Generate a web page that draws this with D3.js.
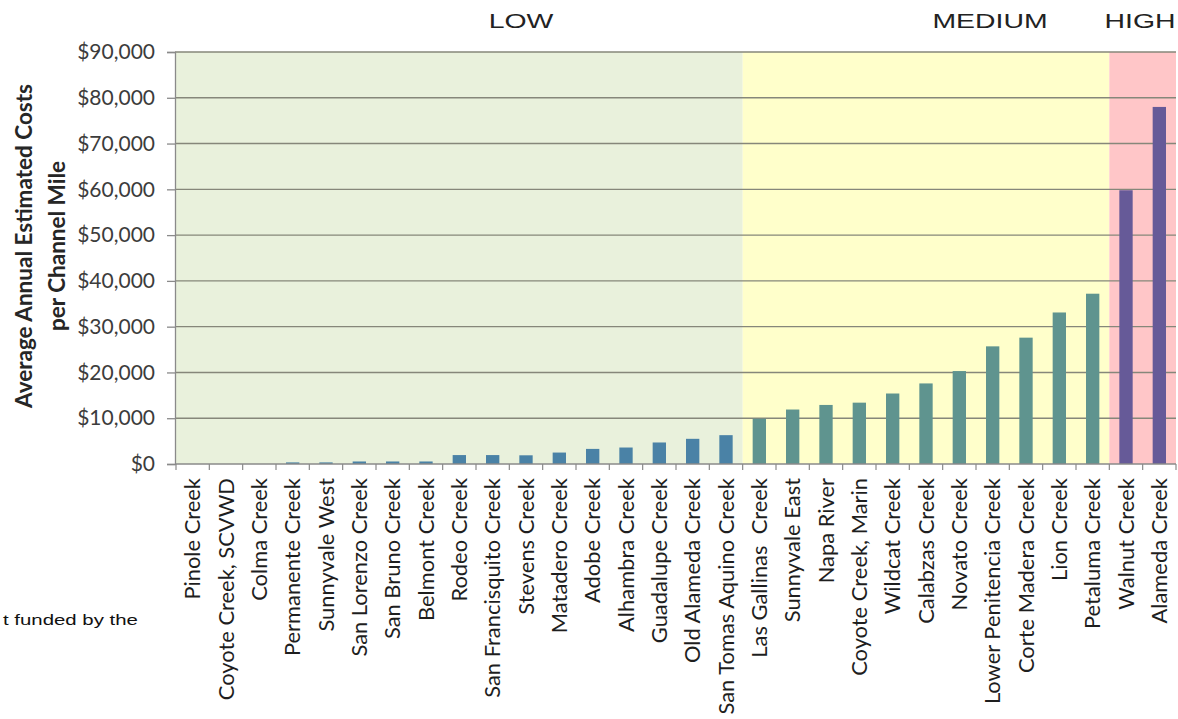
<!DOCTYPE html>
<html>
<head>
<meta charset="utf-8">
<script src="https://cdn.jsdelivr.net/npm/d3@7"></script>
<style>
  body { margin: 0; background: #fff; }
  svg { display: block; }
</style>
</head>
<body>
<svg id="chart" width="1178" height="719"></svg>
<script>
// Creeks, ordered by average annual estimated cost per channel mile
const categories = [
  "Pinole Creek", "Coyote Creek, SCVWD", "Colma Creek", "Permanente Creek",
  "Sunnyvale West", "San Lorenzo Creek", "San Bruno Creek", "Belmont Creek",
  "Rodeo Creek", "San Francisquito Creek", "Stevens Creek", "Matadero Creek",
  "Adobe Creek", "Alhambra Creek", "Guadalupe Creek", "Old Alameda Creek",
  "San Tomas Aquino Creek", "Las Gallinas  Creek", "Sunnyvale East", "Napa River",
  "Coyote Creek, Marin", "Wildcat Creek", "Calabzas Creek", "Novato Creek",
  "Lower Penitencia Creek", "Corte Madera Creek", "Lion Creek", "Petaluma Creek",
  "Walnut Creek", "Alameda Creek"
];

// Average annual estimated cost per channel mile (USD)
const costs = [
  0, 0, 0, 350,
  350, 550, 550, 550,
  1950, 1950, 1900, 2500,
  3300, 3600, 4700, 5500,
  6300, 9900, 11900, 12900,
  13400, 15400, 17600, 20300,
  25700, 27600, 33100, 37200,
  59800, 78000
];

// Cost tiers and how many consecutive creeks fall in each
const tierNames = ["LOW", "MEDIUM", "HIGH"];
const tierCounts = [17, 11, 2];

// Y axis ticks
const yTicks = [0, 10000, 20000, 30000, 40000, 50000, 60000, 70000, 80000, 90000];

// ---- styling ----
const tierBg = { LOW: "#e9f1dc", MEDIUM: "#ffffcb", HIGH: "#ffc6c8" };
const tierBar = { LOW: "#4a82a6", MEDIUM: "#5f948f", HIGH: "#665a98" };
const headerX = { LOW: 521, MEDIUM: 990, HIGH: 1140 };
const HEADER_SX = 1.42; // wide header lettering
const BODY_FONT = "Lato, 'Open Sans', sans-serif";

const svg = d3.select("#chart");

const plot = { left: 175, right: 1176, top: 52, bottom: 464 };

const x = d3.scaleBand()
  .domain(categories)
  .range([plot.left + 1, plot.right])
  .paddingInner(0.6)
  .paddingOuter(0.3);

const y = d3.scaleLinear()
  .domain([0, 90000])
  .range([plot.bottom, plot.top]);

// tier of each creek
const tierOf = [];
tierNames.forEach((t, i) => { for (let k = 0; k < tierCounts[i]; k++) tierOf.push(t); });

// background shading for each tier
const step = x.step();
const x0 = x.range()[0];
let startIdx = 0;
const zones = tierNames.map((t, i) => {
  const z = { tier: t, start: startIdx, end: startIdx + tierCounts[i] };
  startIdx += tierCounts[i];
  return z;
});

svg.append("g").selectAll("rect")
  .data(zones)
  .join("rect")
  .attr("x", d => x0 + d.start * step)
  .attr("width", d => (d.end - d.start) * step)
  .attr("y", y(90000))
  .attr("height", y(0) - y(90000))
  .attr("fill", d => tierBg[d.tier]);

// horizontal gridlines
svg.append("g").selectAll("line")
  .data(yTicks.filter(v => v > 0))
  .join("line")
  .attr("x1", plot.left).attr("x2", plot.right)
  .attr("y1", d => y(d)).attr("y2", d => y(d))
  .attr("stroke", "#86877a")
  .attr("stroke-width", 1.4);

// bars
svg.append("g").selectAll("rect")
  .data(categories.map((c, i) => ({ c, v: costs[i], t: tierOf[i] })))
  .join("rect")
  .attr("x", d => x(d.c))
  .attr("width", x.bandwidth())
  .attr("y", d => y(d.v))
  .attr("height", d => y(0) - y(d.v))
  .attr("fill", d => tierBar[d.t]);

// y axis
const yAxis = d3.axisLeft(y)
  .tickValues(yTicks)
  .tickSize(8)
  .tickPadding(12)
  .tickFormat(d => "$" + d3.format(",")(d));

const yg = svg.append("g")
  .attr("transform", `translate(${plot.left},0)`)
  .call(yAxis);
yg.select(".domain").attr("stroke", "#8a8a8a").attr("stroke-width", 1.3);
yg.selectAll(".tick line").attr("stroke", "#8a8a8a").attr("stroke-width", 1.3);
yg.selectAll(".tick text")
  .attr("font-family", BODY_FONT)
  .attr("font-size", 21)
  .attr("fill", "#3c3c3c");

// x axis: baseline and category separators
const xg = svg.append("g");
xg.append("line")
  .attr("x1", plot.left).attr("x2", plot.right)
  .attr("y1", y(0)).attr("y2", y(0))
  .attr("stroke", "#8a8a8a").attr("stroke-width", 1.3);
xg.selectAll("line.sep")
  .data(d3.range(categories.length + 1))
  .join("line")
  .attr("class", "sep")
  .attr("x1", i => x0 + i * step).attr("x2", i => x0 + i * step)
  .attr("y1", y(0)).attr("y2", y(0) + 6)
  .attr("stroke", "#8a8a8a").attr("stroke-width", 1.2);

// category labels, rotated
xg.selectAll("text")
  .data(categories)
  .join("text")
  .attr("transform", d => `translate(${x(d) + x.bandwidth() / 2},${y(0) + 14}) rotate(-90)`)
  .attr("text-anchor", "end")
  .attr("dy", "0.35em")
  .attr("font-family", BODY_FONT)
  .attr("font-size", 21.9)
  .attr("fill", "#1e1e1e")
  .style("white-space", "pre")
  .text(d => d);

// y axis title
const titleLines = ["Average Annual Estimated Costs", "per Channel Mile"];
const titleBase = [32, 65];
svg.append("g").selectAll("text")
  .data(titleLines)
  .join("text")
  .attr("transform", (d, i) => `translate(${titleBase[i]},246) rotate(-90)`)
  .attr("text-anchor", "middle")
  .attr("font-family", BODY_FONT)
  .attr("font-weight", "bold")
  .attr("font-size", 22.5)
  .attr("fill", "#262626")
  .text(d => d);

// tier headers
svg.append("g").selectAll("text")
  .data(tierNames)
  .join("text")
  .attr("transform", d => `translate(${headerX[d]},28) scale(${HEADER_SX},1)`)
  .attr("text-anchor", "middle")
  .attr("font-family", "Arial, 'Liberation Sans', sans-serif")
  .attr("font-size", 20)
  .attr("fill", "#222")
  .text(d => d);

// fragment of surrounding caption
svg.append("text")
  .attr("transform", "translate(3,625) scale(1.36,1)")
  .attr("font-family", "Arial, 'Liberation Sans', sans-serif")
  .attr("font-size", 15)
  .attr("fill", "#111")
  .text("t funded by the");
</script>
</body>
</html>
